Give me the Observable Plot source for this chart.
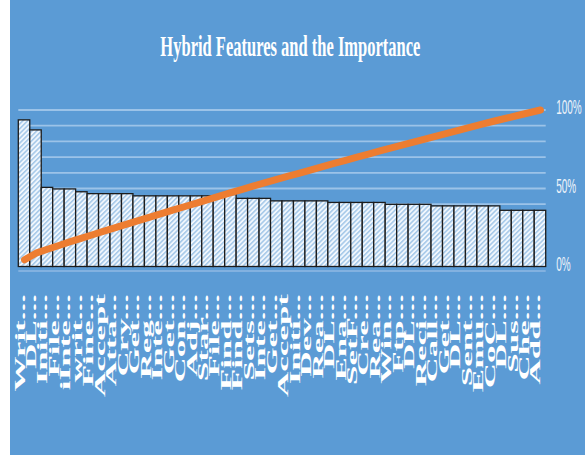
<!DOCTYPE html>
<html><head><meta charset="utf-8">
<script src="https://cdn.jsdelivr.net/npm/d3@7"></script>
<script src="https://cdn.jsdelivr.net/npm/@observablehq/plot@0.6"></script>
<style>
html,body{margin:0;padding:0;background:#fff;}
#chart{position:absolute;left:10px;top:0;width:575px;height:455px;background:#5B9BD5;overflow:hidden;}
#title{position:absolute;left:0;top:29px;width:561px;height:34px;line-height:34px;text-align:center;color:#fff;font-family:"Liberation Serif",serif;font-weight:bold;font-size:30px;white-space:nowrap;}
#title span{display:inline-block;transform:scale(0.55,1);}
#plot{position:absolute;left:0;top:70px;}
</style></head><body>
<div id="chart"><div id="title"><span>Hybrid Features and the Importance</span></div><div id="plot"></div></div>
<script>
const labels = ["Writ...","DL...","Initi...","File...","iInte...","writ...","Fine...","Accept","Atta...","Cry...","Get...","Reg...","Inte...","Get...","Con...","Adj...","Star...","File...","Find...","Find...","Sets...","Inte...","Get...","Accept","Initi...","Dev...","Rea...","DL...","Ena...","SetF...","Cre...","Rea...","Win...","Ftp...","DL...","Reci...","Call...","Get...","DL...","Sent...","Emu...","CoC...","DL...","Sus...","Che...","Add..."];
const importance = [0.0467,0.0435,0.0252,0.0247,0.0247,0.0238,0.0232,0.0232,0.0232,0.0232,0.0225,0.0225,0.0225,0.0225,0.0225,0.0225,0.0225,0.0225,0.0229,0.0217,0.0217,0.0217,0.0209,0.0209,0.0209,0.0209,0.0209,0.0204,0.0204,0.0204,0.0204,0.0204,0.0198,0.0198,0.0198,0.0198,0.0193,0.0193,0.0193,0.0193,0.0193,0.0193,0.0179,0.0179,0.0179,0.0179];
const primaryMax = 0.05;           // hidden primary axis maximum
const gridTicks = [0.1,0.2,0.3,0.4,0.5,0.6,0.7,0.8,0.9,1];
const percentTicks = [0, 0.5, 1];

const n = labels.length;
const total = d3.sum(importance);
const cum = d3.cumsum(importance);
const data = labels.map((label, i) => ({i, label, bar: importance[i] / primaryMax, cum: cum[i] / total}));

const chart = Plot.plot({
  width: 575, height: 385,
  marginLeft: 8.3, marginRight: 39.3, marginTop: 39.5, marginBottom: 188.5,
  x: {domain: [0, n]},
  y: {domain: [0, 1]},
  style: {background: "transparent", overflow: "visible"},
  marks: [
    Plot.ruleY(gridTicks, {stroke: "#9cc3e8", strokeWidth: 1.8}),
    Plot.ruleY([0], {stroke: "#8fb9e3", strokeWidth: 1.5, dy: 4}),
    Plot.rectY(data, {x1: "i", x2: d => d.i + 1, y: "bar", fill: "url(#hatch)", stroke: "#1c1c1c", strokeWidth: 1.3}),
    Plot.line(data, {x: d => d.i + 0.5, y: "cum", stroke: "#ED7D31", strokeWidth: 7, strokeLinecap: "round", strokeLinejoin: "round"}),
    Plot.axisX(d3.range(n).map(i => i + 0.5), {tickFormat: d => labels[Math.floor(d)], tickRotate: -90, tickSize: 0, tickPadding: 27, fontSize: 35, fontFamily: "Liberation Serif", fontWeight: "bold", color: "#ffffff", label: null}),
    Plot.axisY(percentTicks, {anchor: "right", tickFormat: d3.format(".0%"), tickSize: 0, tickPadding: 10, dy: 4, fontSize: 20, fontFamily: "Liberation Sans", color: "#eef3fa", label: null})
  ]
});

const svg = d3.select(chart);
const defs = svg.insert("defs", ":first-child");
const p = defs.append("pattern").attr("id", "hatch").attr("patternUnits", "userSpaceOnUse")
  .attr("width", 3.4).attr("height", 3.4).attr("patternTransform", "rotate(45)");
p.append("rect").attr("width", 3.4).attr("height", 3.4).attr("fill", "#f1f7fd");
p.append("line").attr("x1", 0.8).attr("y1", 0).attr("x2", 0.8).attr("y2", 3.4).attr("stroke", "#86b5e0").attr("stroke-width", 1.1);

function squish(sel, sx, sy) {
  chart.querySelectorAll(sel).forEach(t => {
    const x = +t.getAttribute("x") || 0, y = +t.getAttribute("y") || 0;
    const tr = t.getAttribute("transform") || "";
    t.removeAttribute("x"); t.removeAttribute("y");
    t.setAttribute("transform", `${tr} translate(${x},${y}) scale(${sx},${sy})`);
  });
}
squish('g[aria-label="x-axis tick label"] text', 1, 0.44);
squish('g[aria-label="y-axis tick label"] text', 0.5, 1);

document.getElementById("plot").appendChild(chart);
</script>
</body></html>
